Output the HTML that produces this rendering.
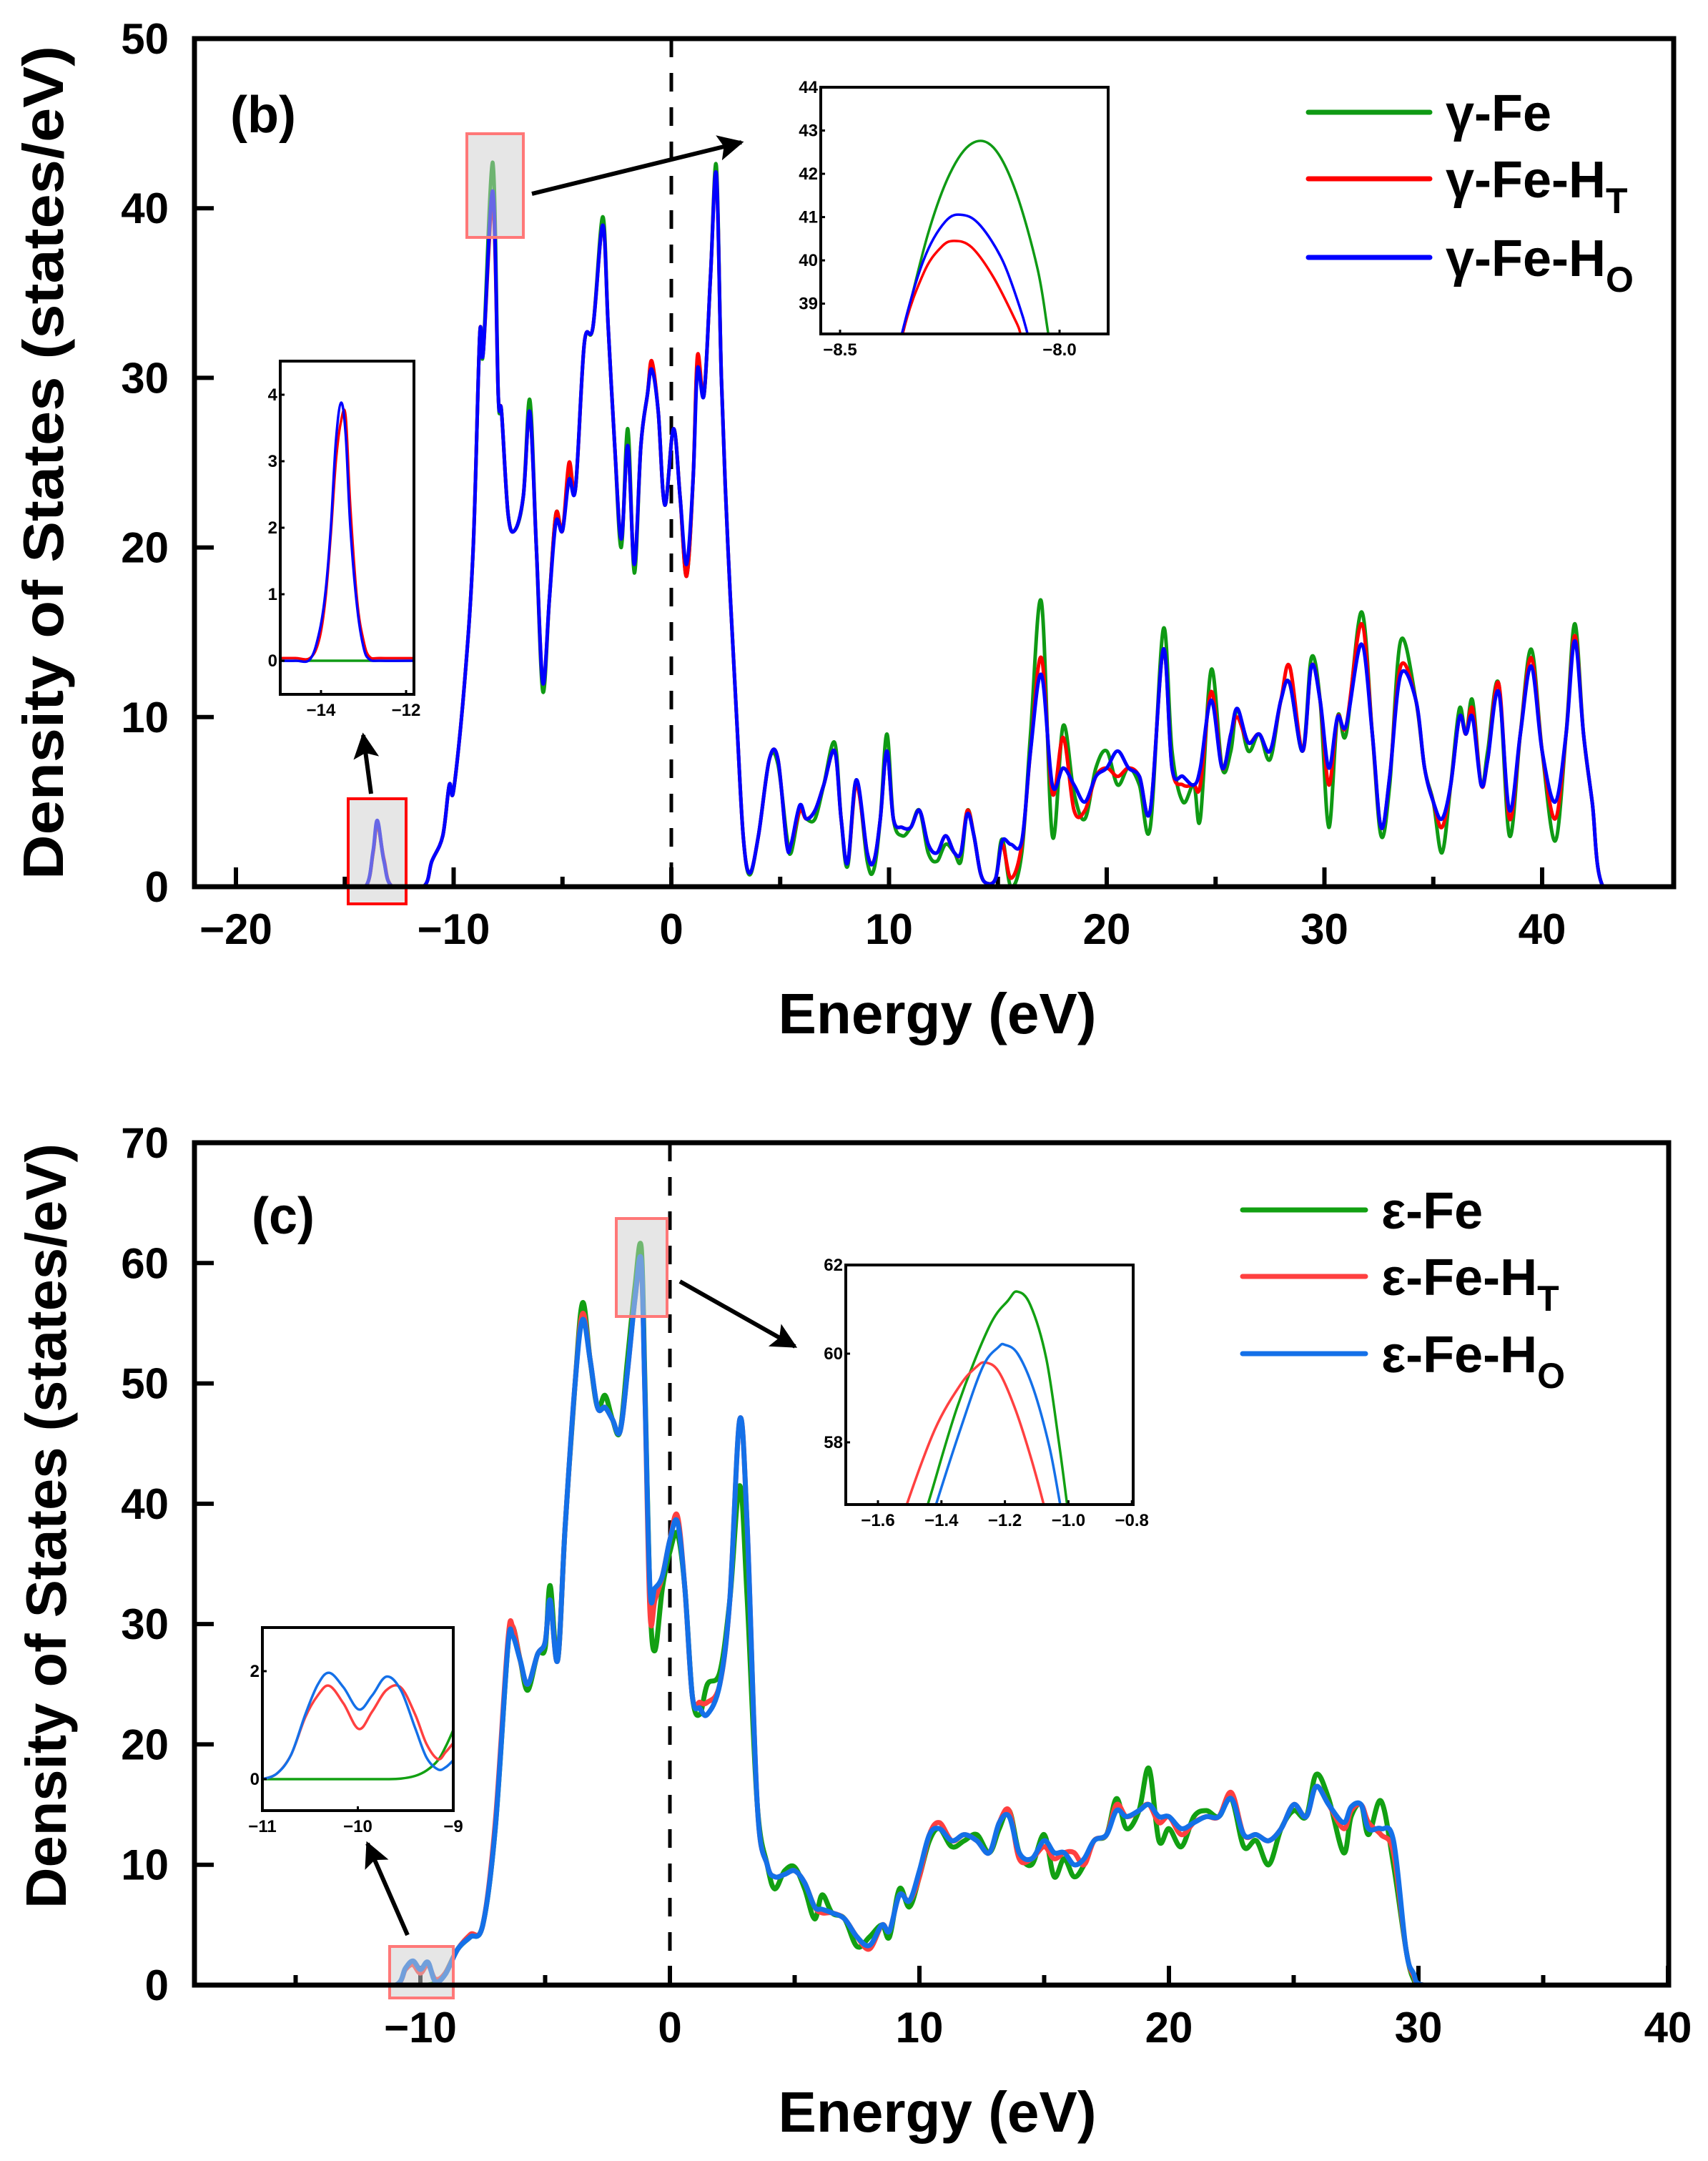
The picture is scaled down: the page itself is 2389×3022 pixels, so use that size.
<!DOCTYPE html>
<html><head><meta charset="utf-8"><style>
html,body{margin:0;padding:0;background:#fff;}
svg{display:block;font-family:"Liberation Sans",Arial,sans-serif;font-weight:bold;}
</style></head><body>
<svg id="fig" width="2389" height="3022" viewBox="0 0 2389 3022" xmlns="http://www.w3.org/2000/svg">
<defs>
<marker id="ah" viewBox="0 0 10 10" refX="9" refY="5" markerWidth="6" markerHeight="6" orient="auto"><path d="M0,0 L10,5 L0,10 L2,5 z" fill="#000"/></marker>
</defs>
<g id="root"></g>
</svg>
<script>
// ---------- Panel (b) data ----------
const bEnergy=[-16,-14.8,-14.0,-13.7,-13.5,-13.2,-12.8,-11.4,-11,-10.5,-10.2,-10,-9.5,-9.1,-8.8,-8.64,-8.2,-7.95,-7.8,-7.5,-7.2,-6.8,-6.5,-6.2,-5.9,-5.6,-5.3,-5.0,-4.7,-4.4,-4.0,-3.6,-3.15,-2.9,-2.6,-2.3,-2.0,-1.7,-1.4,-1.1,-0.9,-0.6,-0.3,0.1,0.4,0.7,1.0,1.2,1.5,1.8,2.07,2.3,2.6,3.0,3.3,3.6,4.0,4.5,4.9,5.3,5.5,5.9,6.2,6.6,7.0,7.5,7.8,8.1,8.5,9.0,9.3,9.6,9.9,10.2,10.6,11.0,11.4,11.8,12.2,12.6,13.0,13.3,13.6,13.9,14.2,14.5,14.9,15.2,15.6,16.1,16.5,17.0,17.5,18.0,18.5,19.0,19.5,20.0,20.5,21.0,21.5,22.0,22.6,23.0,23.5,24.0,24.3,24.8,25.3,25.7,26.0,26.5,27.0,27.5,28.0,28.4,29.0,29.4,29.8,30.2,30.6,31.0,31.7,32.2,32.6,33.0,33.5,34.2,34.6,35.0,35.4,35.8,36.2,36.5,36.8,37.2,37.5,38.0,38.5,39.0,39.5,40.0,40.6,41.1,41.5,41.9,42.3,42.8,44.5];
const bGreen=[0,0,0.1,2,3.8,1.5,0,0,1.5,3,6,5.7,12,20,32.5,31.5,42.7,29,28,22,21,23,28.7,20,11.5,17,22,21,24.5,23.5,32,33,39.5,33,26,20,27,18.5,26,29,30.8,28,22.5,27,23,18.3,24,31,29,36,42.5,30,20,10,3,0.7,3,7.5,7.2,3,2,4.5,4,4,6,8.5,4,1.2,6.3,1.5,1,4,9,4,3,3.5,4.5,2,1.5,2.5,2,1.5,4.5,3,0.8,0.2,0.5,2.8,0,2,9,16.8,3,9.5,5.5,4,7,8,6,7,6,3.5,15.2,8,5,6,4,12.8,7,8,10.5,8,9,7.5,11,12,8,13.5,11,3.5,10,9,16.2,9,3,6,14.5,11,7,5,2,6,10.5,9,11,6,8,12,3,9,14,8,2.7,9,15.5,9,5,0,0];
const bRed=[0,0,0.1,2,3.7,1.6,0,0,1.5,3,6,5.7,12,20,32.5,31.5,40.4,29,28,22,21,23,28,20,12,17,22,21,25,23.5,32,33,39,33,26,20.5,26,19,26,29,31,28,22.5,27,23,18.3,24,31.3,29,36,42,30,20,10,3,0.8,3,7.5,7.5,2.5,2.5,4.5,4,4.5,6,8,4,1.4,6,2,1.5,4,8,4,3.5,3.5,4.5,2.5,2,3,2,2,4.5,3,0.8,0.2,0.5,2.5,0.5,2.5,8,13.5,5.5,8.8,4.5,4.5,6.5,7,6.5,7,6.5,4.5,14,7,6,6,6,11.5,7,9,10,8.5,9,8,11,13,8,13,11,6,10,9.5,15.5,9,3.5,6.5,13,11,7,5,3.5,6,10,9,10.5,6,7.5,12,4,9,13.5,8,4,9,14.8,9,5,0,0];
const bBlue=[0,0,0.1,2.1,3.9,1.5,0,0,1.5,3,6,5.7,12,20,32.5,31.5,41,29,28,22,21,23,28,20,12,17,21.5,21,24,23.5,32,33,39,33,26,20.5,26,19,26,29,30.5,28,22.5,27,23,19,24,30.5,29,36,42,30,20,10,3,0.8,3,7.5,7.5,2.5,2.5,4.8,4,4.5,6,8,4,1.4,6.3,2,1.5,4,8,4,3.5,3.5,4.5,2.5,2,3,2,2,4.3,3,0.8,0.2,0.5,2.7,2.5,2.7,8,12.5,6,7,6,5,6.5,7,8,7,6.5,4.5,14,7,6.5,6,7,11,7,9,10.5,8.5,9,8,11,12,8,13,11,7,10,9.5,14.3,9,3.5,6.5,12.5,11,7,5,4,6,10,9,10,6,7.5,11.5,4.5,9,13,8,5,9,14.5,9,5,0,0];
const bXTicks=[-20,-10,0,10,20,30,40];
const bYTicks=[0,10,20,30,40,50];
// inset b1 (peak near -8.2)
const i1GreenX=[-8.40,-8.358,-8.30,-8.25,-8.20,-8.15,-8.10,-8.05,-8.025,-8.0];
const i1GreenY=[36.6,38.27,40.6,42.0,42.7,42.6,41.6,39.8,38.27,36.8];
const i1RedX=[-8.40,-8.358,-8.31,-8.27,-8.24,-8.20,-8.15,-8.10,-8.088,-8.06];
const i1RedY=[35.8,38.27,39.7,40.3,40.45,40.3,39.6,38.6,38.27,37.3];
const i1BlueX=[-8.40,-8.36,-8.31,-8.26,-8.22,-8.18,-8.13,-8.09,-8.072,-8.05];
const i1BlueY=[36.3,38.27,40.0,40.9,41.05,40.8,40.0,38.9,38.27,37.4];
const i1XTicks=[-8.5,-8.0];
const i1YTicks=[39,40,41,42,43,44];
// inset b2 (peak near -13.5)
const i2X=[-15.02,-14.6,-14.26,-14.05,-13.9,-13.77,-13.65,-13.53,-13.42,-13.31,-13.15,-13.0,-12.86,-12.6,-11.74];
const i2Blue=[0,0,0.02,0.4,1.0,2.0,3.3,3.88,3.4,2.0,0.8,0.2,0.02,0,0];
const i2Red=[0.04,0.04,0.04,0.3,0.9,1.9,3.0,3.6,3.67,2.3,0.9,0.3,0.06,0.04,0.04];
const i2Green=[0,0,0,0,0,0,0,0,0,0,0,0,0,0,0];
const i2XTicks=[-14,-12];
const i2YTicks=[0,1,2,3,4];

// ---------- Panel (c) data ----------
const cEnergy=[-12.5,-11,-10.6,-10.3,-10,-9.7,-9.4,-9,-8.5,-8,-7.5,-7.0,-6.5,-6.3,-6.0,-5.7,-5.3,-5.0,-4.8,-4.5,-4.2,-3.8,-3.5,-3.2,-2.9,-2.6,-2.3,-2.0,-1.7,-1.4,-1.15,-1.0,-0.8,-0.6,-0.3,0,0.3,0.6,0.9,1.2,1.5,2.0,2.4,2.8,3.1,3.5,3.9,4.2,4.6,5.0,5.4,5.8,6.1,6.5,7.0,7.5,8.0,8.5,8.8,9.2,9.6,10.0,10.4,10.8,11.3,11.8,12.3,12.8,13.2,13.6,14.0,14.5,15.0,15.4,15.8,16.2,16.6,17.0,17.5,17.9,18.3,18.8,19.2,19.6,20.0,20.5,21.0,21.5,22.0,22.5,23.0,23.5,24.0,24.5,25.0,25.5,25.9,26.4,27.0,27.3,27.7,28.0,28.5,29.0,29.5,29.8,30.2,32.3];
const cGreen=[0,0,0,0,0,0,0.2,1.0,3,4,5,13,28,29.8,27,24.5,27.5,28,33.2,27,38,50,56.7,52,48,49,47,46,52,58,61.3,50,32,27.8,33,36,37.5,33,24,22.5,25,26,32,41.5,32,15,10,8,9.5,9.8,8,5.5,7.5,6,5.5,3.2,4,5,4,8,6.5,9,12,13,11.5,12,12.5,11,13,14.5,11,10,12.5,9,10.5,9,10,12,12.5,15.5,13,14.5,18,12,13,11.5,14,14.5,14,15.5,11.5,12,10,13,14.5,14,17.5,15.5,11,14,15,12.5,15.3,10,3,0.5,0,0];
const cRed=[0,0,1.3,1.7,1.0,1.7,0.5,1.0,3,4.2,5,13.5,28.5,29.8,27,25,27.5,28.5,32,27,38,50,55.8,52,48,48,47,46,51,57,59.8,49,31,32,34,37,39,33,24,23.5,23.5,25,32,47,38,15,10,9,9.2,9.5,8.5,6.5,6,6,5.5,4,3,5,4.5,7.5,7,9,12.5,13.5,12,12.5,12,11,13.5,14.5,10.5,10.5,11.5,10.5,11,11,10,12,12.5,15,14,14.5,15,13.5,14,12.5,13.5,14,14,16,12.5,12.5,12,13,15,14,16.5,15,13,14.5,15,13.5,12.5,11,3,0.8,0,0];
const cBlue=[0,0,1.4,2.0,1.3,1.9,0.3,0.9,3,4,5,13,28,29,27,25,27.5,28.5,32,27,38,50,55.3,52,48,48,47,46,51,57,60.2,49,33,33,34,37,38.5,33,24,23,22.5,25,32,47,38,15,10,9,9.2,9.5,8.5,6.5,6.3,6,5.5,4,3.3,5,4.5,7.5,7,9.5,12.5,13,12,12.5,12,11,13.5,14,11,10.5,12,11,11,10,10.5,12,12.5,14.5,14,14.5,15,14,14,13,13.5,14,14,15.5,12.5,12.5,12,13,15,14,16.5,15,13.5,14.8,15,13,13,12,3,1,0,0];
const cXTicks=[-10,0,10,20,30,40];
const cYTicks=[0,10,20,30,40,50,60,70];
// inset c1 (peak near -1.2)
const j1GreenX=[-1.48,-1.443,-1.35,-1.25,-1.19,-1.161,-1.12,-1.07,-1.03,-1.004,-0.99];
const j1GreenY=[55.9,56.6,58.8,60.6,61.2,61.4,61.1,59.9,58.0,56.6,55.9];
const j1RedX=[-1.55,-1.509,-1.42,-1.34,-1.29,-1.261,-1.22,-1.17,-1.12,-1.078,-1.06];
const j1RedY=[55.6,56.6,58.3,59.3,59.7,59.8,59.6,58.8,57.7,56.6,56.0];
const j1BlueX=[-1.45,-1.417,-1.34,-1.27,-1.22,-1.2,-1.16,-1.11,-1.06,-1.026,-1.01];
const j1BlueY=[55.8,56.6,58.3,59.7,60.15,60.2,60.0,59.2,57.9,56.6,56.0];
const j1XTicks=[-1.6,-1.4,-1.2,-1.0,-0.8];
const j1YTicks=[58,60,62];
// inset c2 (-11 to -9)
const j2X=[-11,-10.85,-10.7,-10.55,-10.42,-10.3,-10.15,-9.99,-9.85,-9.70,-9.55,-9.40,-9.28,-9.16,-9.08,-9.0];
const j2Blue=[0,0.1,0.45,1.2,1.75,1.97,1.7,1.29,1.55,1.9,1.65,0.95,0.4,0.18,0.22,0.35];
const j2Red=[0,0.1,0.45,1.15,1.55,1.73,1.4,0.93,1.25,1.65,1.7,1.2,0.65,0.37,0.5,0.67];
const j2Green=[0,0,0,0,0,0,0,0,0,0,0.01,0.06,0.16,0.35,0.6,0.91];
const j2XTicks=[-11,-10,-9];
const j2YTicks=[0,2];

// ---------- drawing ----------
const NS='http://www.w3.org/2000/svg';
const root=document.getElementById('root');
let clipId=0;
function mk(tag,attrs,parent){const e=document.createElementNS(NS,tag);for(const k in attrs)e.setAttribute(k,attrs[k]);(parent||root).appendChild(e);return e;}
function axis(x0,x1,d0,d1){return v=>x0+(v-d0)/(d1-d0)*(x1-x0);}
function spline(pts){
  let d='M'+pts[0][0].toFixed(1)+','+pts[0][1].toFixed(1);
  for(let i=0;i<pts.length-1;i++){
    const p0=pts[i-1]||pts[i],p1=pts[i],p2=pts[i+1],p3=pts[i+2]||p2;
    const t=0.17;
    const c1=[p1[0]+(p2[0]-p0[0])*t,p1[1]+(p2[1]-p0[1])*t];
    const c2=[p2[0]-(p3[0]-p1[0])*t,p2[1]-(p3[1]-p1[1])*t];
    d+=' C'+c1[0].toFixed(1)+','+c1[1].toFixed(1)+' '+c2[0].toFixed(1)+','+c2[1].toFixed(1)+' '+p2[0].toFixed(1)+','+p2[1].toFixed(1);
  }
  return d;
}
function drawSeries(g,xs,ys,sx,sy,color,w,name){
  const pts=xs.map((x,i)=>[sx(x),sy(ys[i])]);
  const p=mk('path',{d:spline(pts),fill:'none',stroke:color,'stroke-width':w,'stroke-linejoin':'round','stroke-linecap':'round'},g);
  
  
  return p;
}
function clipRect(l,t,r,b){
  const id='cl'+(clipId++);
  const cp=mk('clipPath',{id:id});
  mk('rect',{x:l,y:t,width:r-l,height:b-t},cp);
  return 'url(#'+id+')';
}
function text(str,x,y,size,anchor,parent,name){
  const t=mk('text',{x:x,y:y,'font-size':size,'text-anchor':anchor||'middle',fill:'#000'},parent);
  t.textContent=str;
  
  
  return t;
}
function fmt(v,dec){return (v<0?'\u2212':'')+Math.abs(v).toFixed(dec);}

function mainPanel(o){
  const g=mk('g',{});
  
  
  const sx=axis(o.L,o.R,o.xd[0],o.xd[1]), sy=axis(o.B,o.T,o.yd[0],o.yd[1]);
  // ticks
  o.xTicks.forEach(v=>{
    const x=sx(v);
    mk('line',{x1:x,y1:o.B,x2:x,y2:o.B-27,stroke:'#000','stroke-width':6},g);
    text(fmt(v,0),x,o.B+80,60,'middle',g,'x-tick-label');
  });
  for(let i=0;i<o.xTicks.length-1;i++){
    const v=(o.xTicks[i]+o.xTicks[i+1])/2;const x=sx(v);
    mk('line',{x1:x,y1:o.B,x2:x,y2:o.B-14,stroke:'#000','stroke-width':6},g);
  }
  if(o.minorLeft!==undefined){const x=sx(o.minorLeft);mk('line',{x1:x,y1:o.B,x2:x,y2:o.B-14,stroke:'#000','stroke-width':6},g);}
  o.yTicks.forEach(v=>{
    const y=sy(v);
    mk('line',{x1:o.L,y1:y,x2:o.L+27,y2:y,stroke:'#000','stroke-width':6},g);
    text(String(v),236,y+21,60,'end',g,'y-tick-label');
  });
  // dashed zero line
  const zl=mk('line',{x1:sx(0),y1:o.T,x2:sx(0),y2:o.B,stroke:'#000','stroke-width':5,'stroke-dasharray':'26,22'},g);
  
  // series
  const sg=mk('g',{'clip-path':clipRect(o.L,o.T,o.R,o.B)},g);
  drawSeries(sg,o.x,o.s[0],sx,sy,o.c[0],o.w,'series-'+o.labels[0].replace(/\W/g,''));
  drawSeries(sg,o.x,o.s[1],sx,sy,o.c[1],o.w,'series-HT');
  drawSeries(sg,o.x,o.s[2],sx,sy,o.c[2],o.w,'series-HO');
  // highlight boxes
  o.boxes.forEach((b,i)=>{
    const r=mk('rect',{x:b[0],y:b[1],width:b[2]-b[0],height:b[3]-b[1],fill:'rgba(205,205,205,0.5)',stroke:b[4],'stroke-width':4},g);
    
  });
  o.arrows.forEach((a,i)=>{
    const l=mk('line',{x1:a[0],y1:a[1],x2:a[2],y2:a[3],stroke:'#000','stroke-width':6,'marker-end':'url(#ah)'},g);
    
  });
  // frame
  const fr=mk('rect',{x:o.L,y:o.T,width:o.R-o.L,height:o.B-o.T,fill:'none',stroke:'#000','stroke-width':7},g);
  
  // titles
  const xt=text('Energy (eV)',1311,o.B+205,80,'middle',g,'x-axis-title');
  xt.setAttribute('textLength',445);xt.setAttribute('lengthAdjust','spacingAndGlyphs');
  const yt=text('Density of States (states/eV)',0,0,80,'middle',g,'y-axis-title');
  yt.setAttribute('transform','translate('+o.yTitleX+','+o.yTitleY+') rotate(-90)');
  yt.setAttribute('textLength',o.yTitleLen);yt.setAttribute('lengthAdjust','spacingAndGlyphs');
  text(o.tag,o.tagX,o.tagY,72,'start',g,'panel-label');
  // legend
  o.labels.forEach((lab,i)=>{
    const y=o.legY[i];
    const lg=mk('g',{},g);
    
    mk('line',{x1:o.legX[0],y1:y,x2:o.legX[1],y2:y,stroke:o.c[i],'stroke-width':7,'stroke-linecap':'round'},lg);
    const t=mk('text',{x:o.legX[1]+22,y:y+26,'font-size':72,fill:'#000'},lg);
    t.appendChild(document.createTextNode(lab));
    if(o.subs[i]){const ts=mk('tspan',{'font-size':50,dy:22},t);ts.textContent=o.subs[i];}
  });
  return {sx,sy};
}

function inset(o){
  const g=mk('g',{});
  
  
  mk('rect',{x:o.L,y:o.T,width:o.R-o.L,height:o.B-o.T,fill:'#fff'},g);
  const sx=axis(o.L,o.R,o.xd[0],o.xd[1]), sy=axis(o.B,o.T,o.yd[0],o.yd[1]);
  const sg=mk('g',{'clip-path':clipRect(o.L,o.T,o.R,o.B)},g);
  o.series.forEach((s,i)=>drawSeries(sg,s[0],s[1],sx,sy,o.c[i],3.5,'inset-series-'+(i+1)));
  o.xTicks.forEach(v=>{const x=sx(v);mk('line',{x1:x,y1:o.B,x2:x,y2:o.B-6,stroke:'#000','stroke-width':3},g);
    text(fmt(v,o.xDec),x,o.B+30,24,'middle',g,'inset-x-tick-label');});
  o.yTicks.forEach(v=>{const y=sy(v);mk('line',{x1:o.L,y1:y,x2:o.L+6,y2:y,stroke:'#000','stroke-width':3},g);
    text(String(v),o.L-4,y+8,24,'end',g,'inset-y-tick-label');});
  mk('rect',{x:o.L,y:o.T,width:o.R-o.L,height:o.B-o.T,fill:'none',stroke:'#000','stroke-width':4},g);
}

// Panel b
mainPanel({name:'panel-b-chart',L:272,R:2341,T:54,B:1240,xd:[(272-939)/30.45,(2341-939)/30.45],yd:[0,50],
  xTicks:bXTicks,yTicks:bYTicks,x:bEnergy,s:[bGreen,bRed,bBlue],c:['#0f9a14','#ff0000','#0000ff'],w:5,
  boxes:[[653,187,732,332,'#ff7878'],[487,1117,568,1264,'#ff0000']],
  arrows:[[744,271,1037,199],[519,1110,508,1028]],
  yTitleX:88,yTitleY:647,yTitleLen:1166,tag:'(b)',tagX:322,tagY:185,
  labels:['\u03b3-Fe','\u03b3-Fe-H','\u03b3-Fe-H'],subs:['','T','O'],legX:[1830,2000],legY:[157,250,360]});
inset({name:'inset-b-peak',L:1148,R:1550,T:122,B:467,xd:[-8.5-(1175-1148)/614,-8.5+(1550-1175)/614],yd:[38.3,44],
  series:[[i1GreenX,i1GreenY],[i1RedX,i1RedY],[i1BlueX,i1BlueY]],c:['#0f9a14','#ff0000','#0000ff'],xTicks:i1XTicks,yTicks:i1YTicks,xDec:1});
inset({name:'inset-b-low',L:392,R:579,T:505,B:971,xd:[-14-(449-392)/59.5,-14+(579-449)/59.5],yd:[-(971-924)/93,(924-505)/93],
  series:[[i2X,i2Green],[i2X,i2Red],[i2X,i2Blue]],c:['#0f9a14','#ff0000','#0000ff'],xTicks:i2XTicks,yTicks:i2YTicks,xDec:0});

// Panel c
mainPanel({name:'panel-c-chart',L:272,R:2334,T:1598,B:2776,xd:[(272-937)/34.9,(2334-937)/34.9],yd:[0,70],
  xTicks:cXTicks,yTicks:cYTicks,minorLeft:-15,x:cEnergy,s:[cGreen,cRed,cBlue],c:['#12a012','#ff4040','#1470e8'],w:7,
  boxes:[[862,1704,933,1841,'#ff7878'],[545,2722,634,2794,'#ff7878']],
  arrows:[[951,1792,1112,1883],[570,2706,514,2578]],
  yTitleX:92,yTitleY:2134,yTitleLen:1070,tag:'(c)',tagX:352,tagY:1725,
  labels:['\u03b5-Fe','\u03b5-Fe-H','\u03b5-Fe-H'],subs:['','T','O'],legX:[1738,1910],legY:[1692,1785,1893]});
inset({name:'inset-c-peak',L:1183,R:1585,T:1769,B:2104,xd:[-1.6-(1228-1183)/444,-1.6+(1585-1228)/444],yd:[58-(2104-2017)/62,62],
  series:[[j1GreenX,j1GreenY],[j1RedX,j1RedY],[j1BlueX,j1BlueY]],c:['#12a012','#ff4040','#1470e8'],xTicks:j1XTicks,yTicks:j1YTicks,xDec:1});
inset({name:'inset-c-low',L:367,R:634,T:2276,B:2532,xd:[-11,-9],yd:[-(2532-2488)/75.5,(2488-2276)/75.5],
  series:[[j2X,j2Green],[j2X,j2Red],[j2X,j2Blue]],c:['#12a012','#ff4040','#1470e8'],xTicks:j2XTicks,yTicks:j2YTicks,xDec:0});
</script>
</body></html>
